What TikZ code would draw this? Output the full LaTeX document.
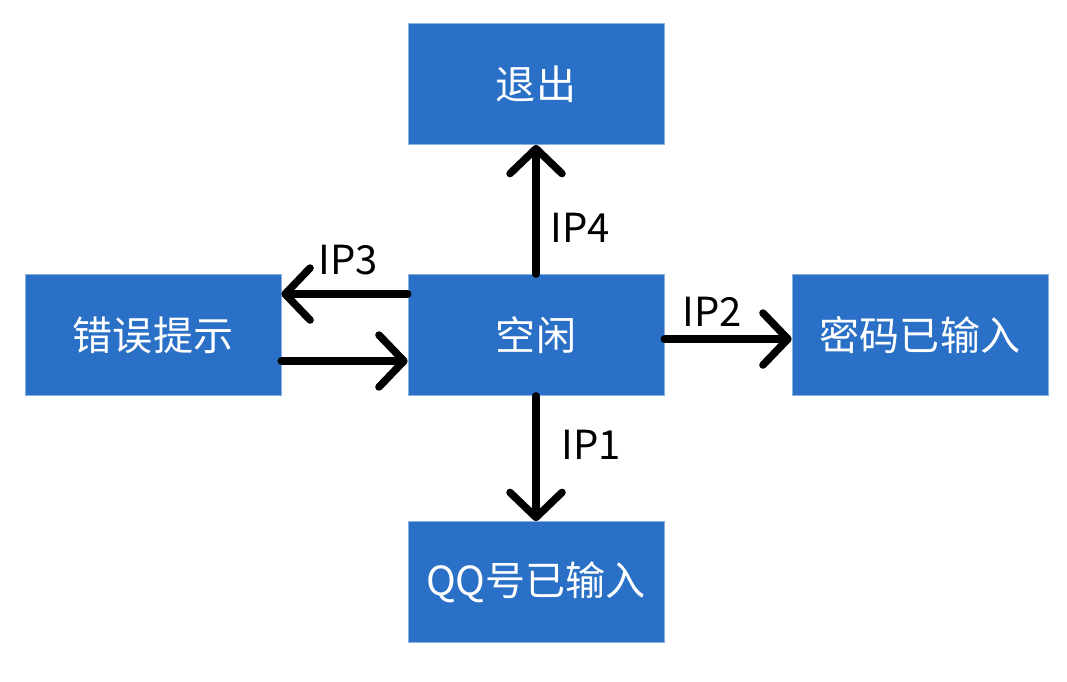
\documentclass[tikz,border=0pt]{standalone}
\usepackage{fontspec}
\setmainfont{Noto Sans CJK SC}
\usepackage{tikz}
\usetikzlibrary{arrows.meta,positioning}
\definecolor{stblue}{HTML}{2970C6}
\definecolor{stedge}{HTML}{8AB0E0}

\begin{document}
\begin{tikzpicture}[
  x=0.02cm, y=-0.02cm,
  state/.style={rectangle,draw=stedge,line width=0.4pt,fill=stblue,text=white,
    minimum width=5.12cm,minimum height=2.42cm,inner sep=0pt,
    font=\fontsize{22.8}{27}\selectfont},
  trans/.style={line width=0.15cm,line cap=round,
    -{Straight Barb[length=0.5cm,width=1.04cm,round]}},
  lbl/.style={inner sep=0pt,font=\fontsize{22.8}{27}\selectfont}]
\useasboundingbox (0,0) rectangle (1067,681);
% states
\node[state] (quit) at (536,84) {退出};
\node[state] (idle) at (536,335) {空闲};
\node[state] (err) at (153,335) {错误提示};
\node[state] (pwd) at (920,335) {密码已输入};
\node[state] (qq) at (536,582) {QQ号已输入};
% transitions
\draw[trans] (idle.north) -- (quit.south);
\draw[trans] ([yshift=0.82cm]idle.west) -- ([yshift=0.82cm]err.east);
\draw[trans] ([yshift=-0.52cm]err.east) -- ([yshift=-0.52cm]idle.west);
\draw[trans] ([yshift=-0.08cm]idle.east) -- ([yshift=-0.08cm]pwd.west);
\draw[trans] (idle.south) -- (qq.north);
% labels
\node[lbl] (ip4) at (580,228) {IP4};
\node[lbl] (ip3) at (348,260) {IP3};
\node[lbl] (ip2) at (712,312) {IP2};
\node[lbl] (ip1) at (591,445) {IP1};
\end{tikzpicture}
\end{document}
